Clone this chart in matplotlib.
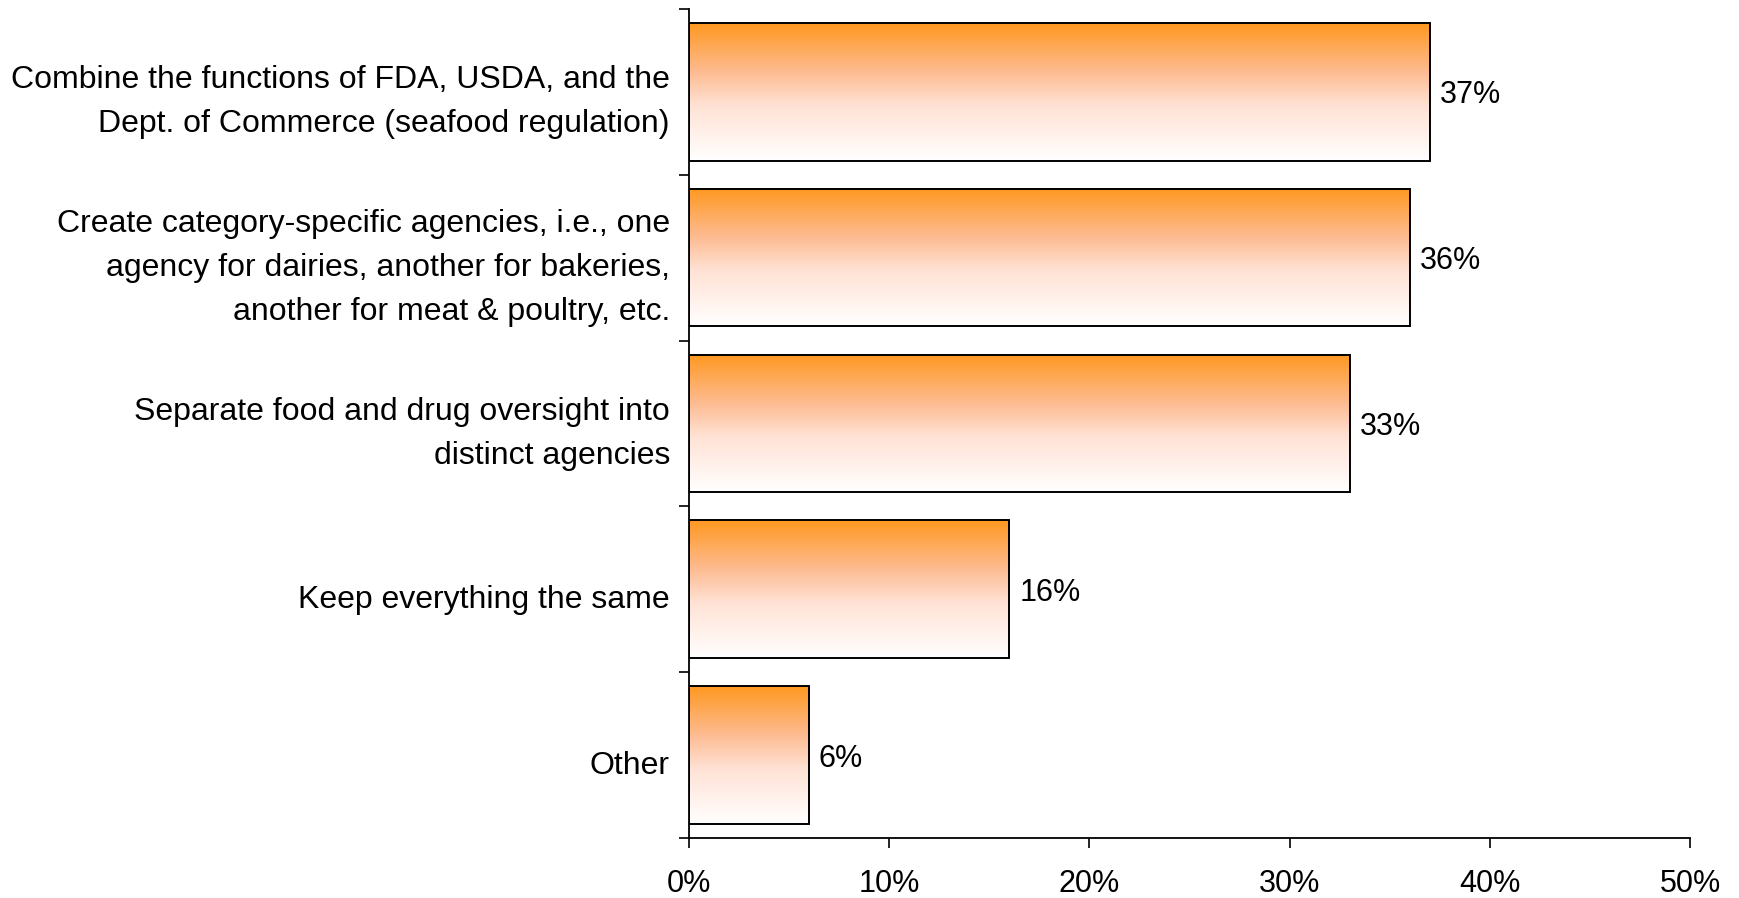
import matplotlib as mpl
mpl.rcParams['font.family'] = ['Liberation Sans', 'DejaVu Sans']
mpl.rcParams['font.size'] = 22
import matplotlib.pyplot as plt
import matplotlib.transforms as mtransforms
import numpy as np
from matplotlib.colors import LinearSegmentedColormap

categories = [
    "Combine the functions of FDA, USDA, and the\nDept. of Commerce (seafood regulation)",
    "Create category-specific agencies, i.e., one\nagency for dairies, another for bakeries,\nanother for meat & poultry, etc.",
    "Separate food and drug oversight into\ndistinct agencies",
    "Keep everything the same",
    "Other",
]
values = [37, 36, 33, 16, 6]
xticks = [0, 10, 20, 30, 40, 50]

fig = plt.figure(figsize=(17.39, 8.98), dpi=100)
ax = fig.add_axes([0.396, 0.0668, 0.576, 0.9232])

pos = np.arange(len(categories))
bars = ax.barh(pos, values, height=0.83, facecolor='none', edgecolor='black', linewidth=1.4, zorder=3)

# orange-to-white vertical gradient inside each bar
cmap = LinearSegmentedColormap.from_list('grad', [(0, '#FF9820'), (0.35, '#FDBB90'), (0.6, '#FFE2D5'), (1, '#FFFFFF')])
grad = np.linspace(0, 1, 256).reshape(-1, 1)
for b in bars:
    x0, y0, w, h = b.get_x(), b.get_y(), b.get_width(), b.get_height()
    # y axis is inverted, so top of bar is y0
    ax.imshow(grad, cmap=cmap, aspect='auto', extent=(x0, x0 + w, y0 + h, y0), origin='upper', zorder=2)

for p, v in zip(pos, values):
    ax.text(v + 0.5, p, f"{v}%", va='center_baseline', ha='left', fontsize=22)

ax.set_xlim(0, 50)
ax.set_ylim(len(categories) - 0.5, -0.5)
ax.set_xticks(xticks)
ax.set_xticklabels([f"{t}%" for t in xticks])
ax.tick_params(axis='x', length=7.5, width=1.2, pad=15)

ax.set_yticks(np.arange(len(categories) + 1) - 0.5)
ax.set_yticklabels([])
ax.tick_params(axis='y', which='major', length=7.5, width=1.2)
ax.set_yticks(pos, minor=True)
ax.set_yticklabels(categories, minor=True, linespacing=1.6, fontsize=23)
ax.tick_params(axis='y', which='minor', length=0, pad=13.5)

# single-line labels sit a little lower in the original
shift = mtransforms.ScaledTranslation(0, -5 / 72, fig.dpi_scale_trans)
for lbl in ax.get_yticklabels(minor=True):
    if "\n" not in lbl.get_text():
        lbl.set_transform(lbl.get_transform() + shift)

for s in ['top', 'right']:
    ax.spines[s].set_visible(False)
for s in ['left', 'bottom']:
    ax.spines[s].set_linewidth(1.3)

fig.savefig('out.png', dpi=100)
